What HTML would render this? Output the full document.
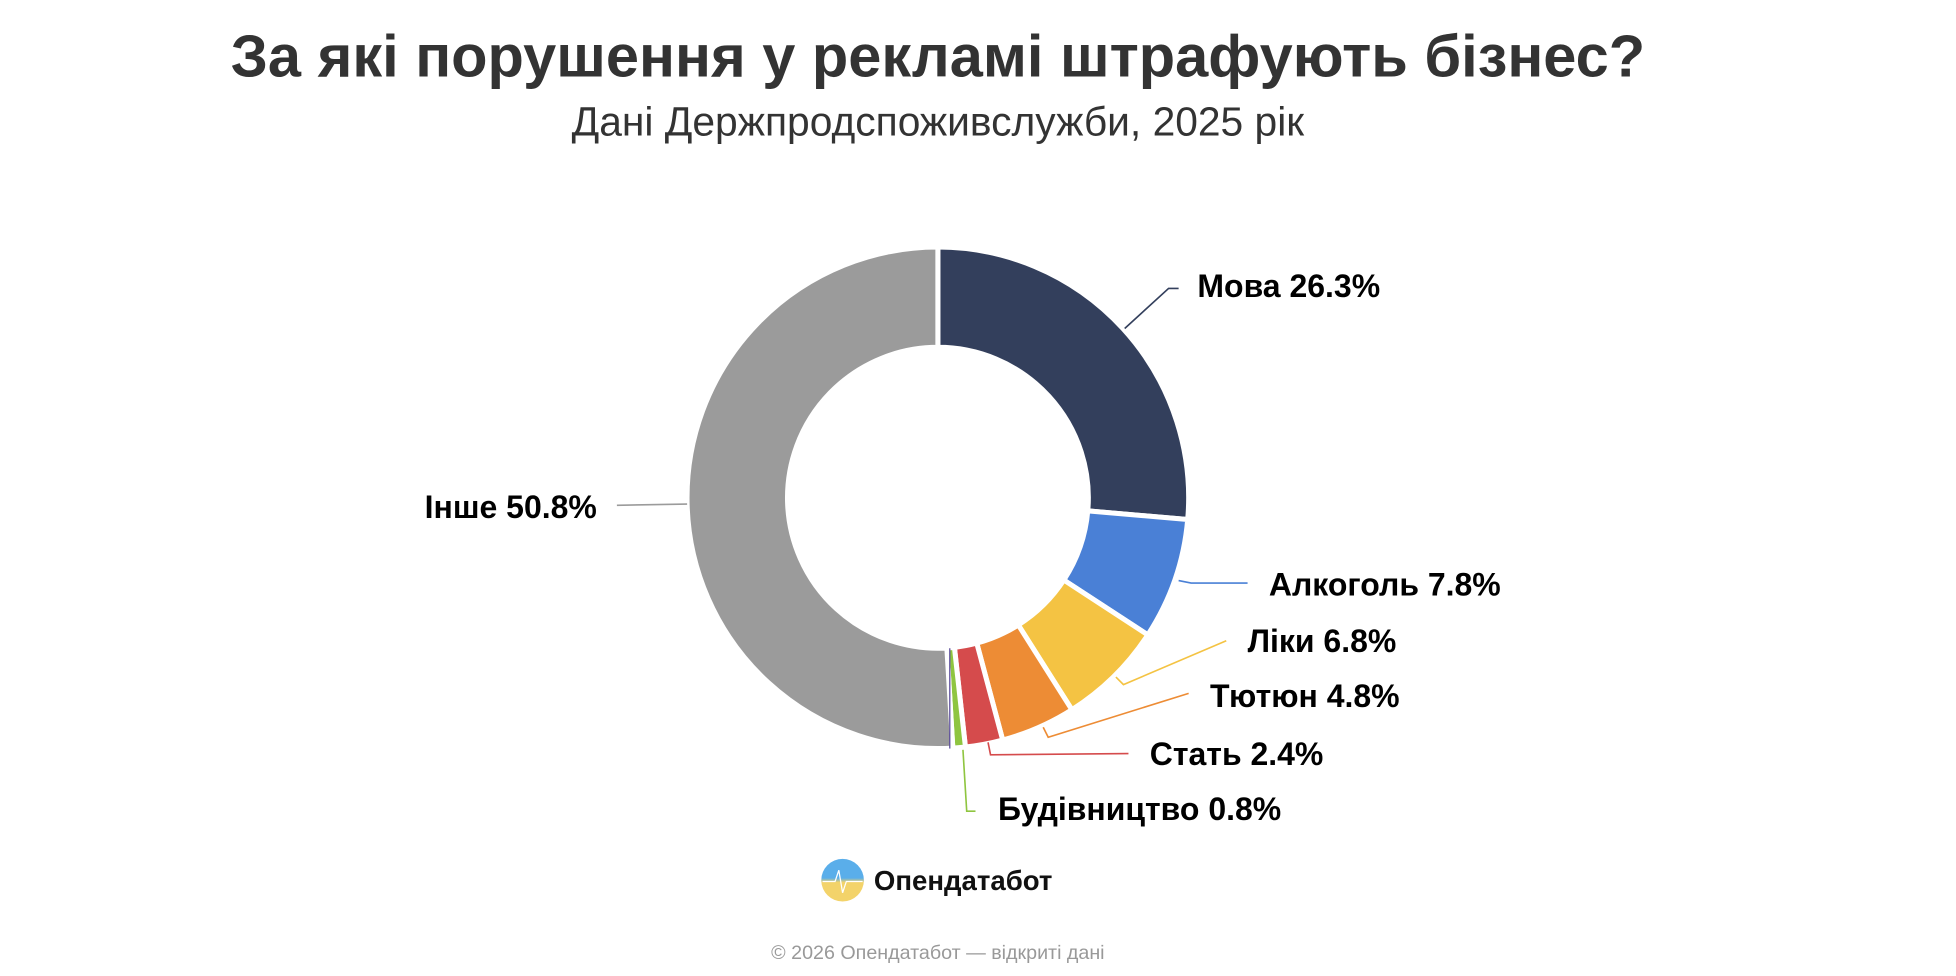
<!DOCTYPE html>
<html><head><meta charset="utf-8"><style>
html,body{margin:0;padding:0;background:#fff;}
svg{display:block;}
text{font-family:"Liberation Sans",sans-serif;}
</style></head><body>
<svg width="1956" height="976" viewBox="0 0 1560 778.4" xmlns="http://www.w3.org/2000/svg">
<rect width="1560" height="778.4" fill="#fff"/>
<text x="748" y="61" text-anchor="middle" font-size="47.5" font-weight="bold" fill="#333">За які порушення у рекламі штрафують бізнес?</text>
<text x="748" y="108" text-anchor="middle" font-size="32.5" fill="#333">Дані Держпродспоживслужби, 2025 рік</text>
<g stroke="#fff" stroke-width="4" stroke-linejoin="round">
<path d="M748,197 A200,200 0 0 1 947.25,414.33 L867.55,407.40 A120,120 0 0 0 748,277 Z" fill="#333f5c"/>
<path d="M947.25,414.33 A200,200 0 0 1 915.45,506.34 L848.47,462.61 A120,120 0 0 0 867.55,407.40 Z" fill="#4a80d6"/>
<path d="M915.45,506.34 A200,200 0 0 1 854.89,566.04 L812.13,498.42 A120,120 0 0 0 848.47,462.61 Z" fill="#f4c343"/>
<path d="M854.89,566.04 A200,200 0 0 1 799.70,590.20 L779.02,512.92 A120,120 0 0 0 812.13,498.42 Z" fill="#ed8c35"/>
<path d="M799.70,590.20 A200,200 0 0 1 769.98,595.79 L761.19,516.27 A120,120 0 0 0 779.02,512.92 Z" fill="#d54b4c"/>
<path d="M769.98,595.79 A200,200 0 0 1 759.93,596.64 L755.16,516.79 A120,120 0 0 0 761.19,516.27 Z" fill="#8fc540"/>
<path d="M759.93,596.64 A200,200 0 1 1 748,197 L748,277 A120,120 0 1 0 755.16,516.79 Z" fill="#9b9b9b"/>
</g>
<line x1="757.5" y1="517" x2="757.5" y2="597" stroke="#5a4a9a" stroke-width="1"/>
<g fill="none" stroke-width="1.3">
<polyline points="897,262 932,230 940,230" stroke="#333f5c"/>
<polyline points="940,463 950,465 995,465" stroke="#4a80d6"/>
<polyline points="890,540 896,546 978,511" stroke="#f4c343"/>
<polyline points="832,580 836,588 948,553" stroke="#ed8c35"/>
<polyline points="788,592 790,602 900,601" stroke="#d54b4c"/>
<polyline points="768,598 771,647 778,647" stroke="#8fc540"/>
<polyline points="492,403 548,402" stroke="#9b9b9b"/>
</g>
<g font-size="25.5" font-weight="bold" fill="#000">
<text x="955" y="237">Мова 26.3%</text>
<text x="1012" y="475">Алкоголь 7.8%</text>
<text x="995" y="520">Ліки 6.8%</text>
<text x="965" y="564">Тютюн 4.8%</text>
<text x="917" y="610">Стать 2.4%</text>
<text x="796" y="654">Будівництво 0.8%</text>
<text x="476" y="413" text-anchor="end">Інше 50.8%</text>
</g>
<defs><linearGradient id="lg" x1="0" y1="0" x2="0" y2="1"><stop offset="0.45" stop-color="#5aaeea"/><stop offset="0.55" stop-color="#f3d36a"/></linearGradient></defs>
<circle cx="672" cy="702" r="17" fill="url(#lg)"/>
<polyline points="656,703 666,703 669,694 672,712 675,703 688,703" fill="none" stroke="#fff" stroke-width="1"/>
<text x="697" y="710" font-size="22" font-weight="bold" fill="#111">Опендатабот</text>
<text x="748" y="765" text-anchor="middle" font-size="15.7" fill="#999">© 2026 Опендатабот — відкриті дані</text>
</svg>
</body></html>
